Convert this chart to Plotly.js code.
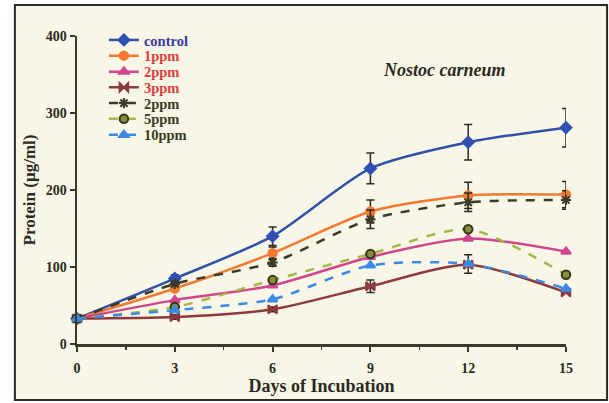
<!DOCTYPE html>
<html><head><meta charset="utf-8">
<script src="https://cdn.plot.ly/plotly-3.0.1.min.js"></script>
<style>body{margin:0;background:#ffffff}#c{width:609px;height:403px}</style>
</head><body><div id="c"></div>
<script>
const days = [0, 3, 6, 9, 12, 15];
const seriesNames = ['control', '1ppm', '2ppm', '3ppm', '2ppm', '5ppm', '10ppm'];
const control = [33, 85, 140, 228, 262, 281];
const ppm1 = [33, 72, 118, 172, 193, 194];
const ppm2 = [33, 57, 76, 113, 137, 120];
const ppm3 = [33, 35, 45, 75, 103, 67];
const ppm2b = [33, 78, 106, 162, 184, 187];
const ppm5 = [33, 48, 83, 117, 149, 90];
const ppm10 = [33, 44, 58, 102, 104, 72];
const errControl = [2, 5, 12, 20, 23, 25];
const err1 = [0, 3, 8, 15, 17, 17];
const err2 = [0, 0, 0, 0, 0, 0];
const err3 = [0, 3, 3, 8, 0, 0];
const err2b = [0, 3, 5, 12, 12, 12];
const err5 = [0, 0, 0, 0, 0, 0];
const err10 = [0, 0, 0, 0, 12, 0];
const xTicks = [0, 3, 6, 9, 12, 15];
const yTicks = [0, 100, 200, 300, 400];

const vals = [control, ppm1, ppm2, ppm3, ppm2b, ppm5, ppm10];
const errs = [errControl, err1, err2, err3, err2b, err5, err10];
const styles = [
  {c:'#3150a8', dash:'solid', sym:'diamond', mc:'#3150b4', ml:'#3150b4', nc:'#3a3a9a'},
  {c:'#f47a32', dash:'solid', sym:'circle', mc:'#f47a32', ml:'#f47a32', nc:'#d8403c'},
  {c:'#d0468e', dash:'solid', sym:'triangle-up', mc:'#d0468e', ml:'#d0468e', nc:'#d8403c'},
  {c:'#8e3a3c', dash:'solid', sym:'bowtie', mc:'#8e3a3c', ml:'#8e3a3c', nc:'#d8403c'},
  {c:'#3a3a26', dash:'dash', sym:'asterisk-open', mc:'#3a3a26', ml:'#3a3a26', nc:'#3a3a22'},
  {c:'#a8b848', dash:'dash', sym:'circle', mc:'#8a8a3a', ml:'#36361a', nc:'#3a3a22'},
  {c:'#3a8ae6', dash:'dash', sym:'triangle-up', mc:'#3a8ae6', ml:'#3a8ae6', nc:'#3a3a22'}
];
const font = {family: 'Liberation Serif, Times New Roman, serif', weight: 'bold', color: '#2a2a1e'};
const legendY = [0.987, 0.936, 0.884, 0.833, 0.782, 0.731, 0.679];

const traces = vals.map((v, i) => ({
  x: days, y: v, type: 'scatter', mode: 'lines+markers',
  name: '<span style="color:' + styles[i].nc + '">' + seriesNames[i] + '</span>',
  legend: i === 0 ? 'legend' : 'legend' + (i + 1),
  line: {color: styles[i].c, width: 2.5, dash: styles[i].dash, shape: 'spline', smoothing: 0.7},
  marker: {symbol: styles[i].sym, size: 8.5, color: styles[i].mc, line: {color: styles[i].ml, width: 2}},
  error_y: {type: 'data', array: errs[i], visible: true, color: '#2a2a22', thickness: 1.5, width: 4},
  cliponaxis: false
}));

const layout = {
  width: 609, height: 403,
  paper_bgcolor: '#ffffff', plot_bgcolor: '#f8f6e6',
  margin: {l: 77, r: 43, t: 36, b: 59},
  font: Object.assign({size: 14}, font),
  showlegend: true,
  xaxis: {range: [0, 15], tickvals: xTicks, ticktext: xTicks.map(String), showgrid: false, zeroline: false,
    showline: true, linecolor: '#3a3a2a', linewidth: 2.5, ticks: 'outside', ticklen: 5, tickwidth: 2, tickcolor: '#3a3a2a',
    ticklabelstandoff: 5,
    minor: {tickvals: [1.5, 4.5, 7.5, 10.5, 13.5], ticks: 'outside', ticklen: 3, tickwidth: 1.5, tickcolor: '#3a3a2a'},
    tickfont: Object.assign({size: 14}, font),
    title: {text: 'Days of Incubation', font: Object.assign({size: 18}, font), standoff: 4}},
  yaxis: {range: [0, 400], tickvals: yTicks, ticktext: yTicks.map(String), showgrid: false, zeroline: false,
    showline: true, linecolor: '#3a3a2a', linewidth: 2.5, ticks: 'outside', ticklen: 5, tickwidth: 2, tickcolor: '#3a3a2a',
    tickfont: Object.assign({size: 14}, font),
    title: {text: 'Protein (µg/ml)', font: Object.assign({size: 17}, font), standoff: 6}},
  annotations: [{xref: 'paper', yref: 'paper', x: 0.752, y: 0.89, xanchor: 'center', yanchor: 'middle', showarrow: false,
    text: '<i>Nostoc carneum</i>', font: Object.assign({size: 18}, font)}],
  shapes: [{type: 'rect', xref: 'paper', yref: 'paper', x0: -0.127, x1: 1.084, y0: -0.182, y1: 1.101,
    line: {color: '#2a2a22', width: 2}, fillcolor: '#f8f6e6', layer: 'below'}]
};
legendY.forEach((y, i) => {
  layout[i === 0 ? 'legend' : 'legend' + (i + 1)] = {
    x: 0.055, y: y, xanchor: 'left', yanchor: 'middle', bgcolor: 'rgba(0,0,0,0)',
    font: Object.assign({size: 14.5}, font), itemwidth: 30
  };
});
Plotly.newPlot('c', traces, layout, {displayModeBar: false, staticPlot: true});
</script></body></html>
